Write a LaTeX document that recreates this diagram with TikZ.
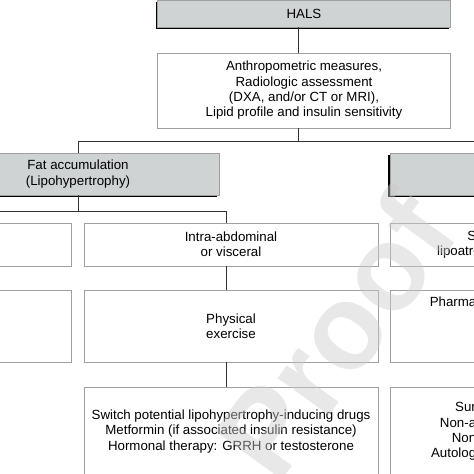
\documentclass[tikz,border=0pt]{standalone}
\usepackage{fontspec}
\setmainfont{Liberation Sans}
\usetikzlibrary{positioning, shadows}
\definecolor{hdrgray}{RGB}{207, 211, 211}
\definecolor{framegray}{RGB}{160, 160, 160}
\definecolor{linkgray}{RGB}{50, 50, 50}
\definecolor{wmark}{gray}{0.8}

\begin{document}
\begin{tikzpicture}[x=1pt, y=-1pt,
  box/.style={draw=framegray, fill=white, line width=0.9pt, inner sep=0pt, align=center,
    font=\fontsize{13.3}{15.3}\selectfont},
  hdr/.style={box, fill=hdrgray,
    drop shadow={shadow xshift=-2pt, shadow yshift=-2pt, fill=black, opacity=1}},
  link/.style={draw=linkgray, line width=1pt}]
  \fill[white] (0,0) rectangle (474,474);
  \useasboundingbox (0,0) rectangle (474,474);
  \clip (0,0) rectangle (474,474);

  \node[hdr, minimum width=293pt, minimum height=27pt] (hals) at (304,13.5) {HALS};
  \node[box, minimum width=293pt, minimum height=75pt] (meas) at (304,90.5) {
    Anthropometric measures,\\
    Radiologic assessment\\
    (DXA, and/or CT or MRI),\\
    Lipid profile and insulin sensitivity};
  \node[hdr, minimum width=282pt, minimum height=42pt] (fat) at (78,174) {Fat accumulation\\(Lipohypertrophy)};
  \node[hdr, minimum width=282pt, minimum height=42pt] (loss) at (531,174) {};

  \node[box, minimum width=282pt, minimum height=43pt] (subc) at (-70,244.5) {};
  \node[box, minimum width=294pt, minimum height=43pt] (visc) at (231,244.5) {Intra-abdominal\\or visceral};
  \node[box, minimum width=197pt, minimum height=43pt] (sev) at (488.5,244.5) {Severe\\lipoatrophy (face)};

  \node[box, minimum width=282pt, minimum height=72pt] (subcrx) at (-70,326) {};
  \node[box, minimum width=294pt, minimum height=72pt] (phys) at (231,326) {Physical\\exercise};
  \node[box, minimum width=226pt, minimum height=72pt,
    label={[anchor=north, inner sep=0pt, yshift=-7pt, font=\fontsize{13.3}{15.3}\selectfont]north:Pharmacological therapy}] (pharm) at (503,326) {};

  \node[box, minimum width=294pt, minimum height=89pt] (drugs) at (231,431.5) {
    Switch potential lipohypertrophy-inducing drugs\\
    Metformin (if associated insulin resistance)\\
    Hormonal therapy: GRRH or testosterone};
  \node[box, minimum width=216pt, minimum height=89pt] (surg) at (498,431.5) {
    Surgical repair\\
    Non-absorbable gel\\
    Non-permanent\\
    Autologous fat transfer};

  \coordinate (spine) at (298,0);
  \coordinate (vtap) at (226,0);
  \draw[link] (hals.south -| spine) -- (meas.north -| spine);
  \draw[link] (meas.south -| spine) -- ++(0,13) coordinate (split);
  \draw[link] (fat.north) |- (split) -| (loss.north);
  \draw[link] (fat.south) -- ++(0,16) coordinate (fork);
  \draw[link] (subc.north) |- (fork) -| (visc.north -| vtap);
  \draw[link] (visc.south -| vtap) -- (phys.north -| vtap);
  \draw[link] (phys.south -| vtap) -- (drugs.north -| vtap);

  \node[text=wmark, text opacity=0.45, rotate=54, font=\fontsize{120}{120}\selectfont\bfseries] (wm) at (335,335) {Proof};
\end{tikzpicture}
\end{document}
